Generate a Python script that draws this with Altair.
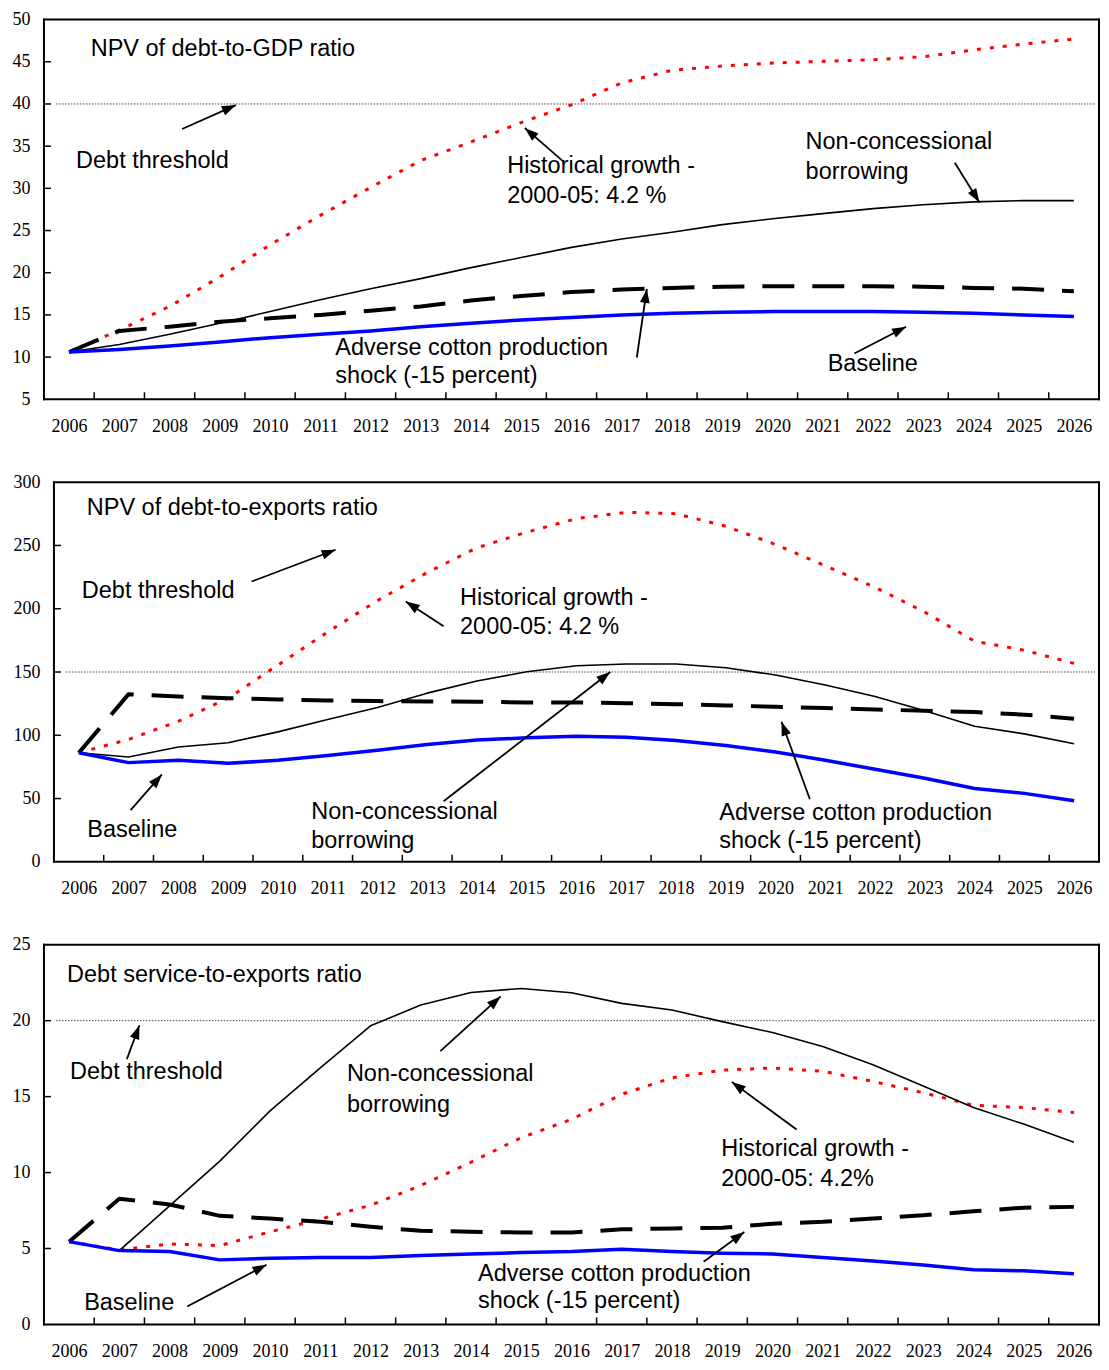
import math
import altair as alt
import pandas as pd

years = list(range(2006, 2027))

# Panel 1: NPV of debt-to-GDP ratio
gdp_baseline = [10.6, 10.9, 11.3, 11.8, 12.3, 12.7, 13.1, 13.6, 14.0, 14.4, 14.7,
                15.0, 15.2, 15.3, 15.4, 15.4, 15.4, 15.3, 15.2, 15.0, 14.8]
gdp_adverse = [10.6, 13.1, 13.6, 14.2, 14.6, 15.0, 15.5, 16.0, 16.7, 17.25, 17.7,
               18.0, 18.2, 18.35, 18.4, 18.4, 18.4, 18.35, 18.2, 18.1, 17.8]
gdp_noncon = [10.6, 11.5, 12.7, 14.0, 15.4, 16.8, 18.1, 19.3, 20.6, 21.8, 23.0,
              24.0, 24.8, 25.7, 26.4, 27.0, 27.6, 28.05, 28.4, 28.55, 28.55]
gdp_hist = [10.6, 13.2, 16.0, 19.5, 23.3, 26.8, 30.1, 33.3, 35.5, 37.8, 39.9,
            42.5, 44.0, 44.5, 44.85, 45.05, 45.25, 45.6, 46.4, 47.1, 47.7]
gdp_threshold = 40

# Panel 2: NPV of debt-to-exports ratio
exp_baseline = [86.2, 78.4, 80.2, 77.9, 80.2, 84.1, 88.1, 92.8, 96.2, 98.0, 99.3,
                98.5, 95.9, 92.0, 86.8, 80.2, 73.2, 66.1, 58.0, 54.1, 48.3]
exp_adverse = [86.2, 132.5, 130.6, 129.3, 128.3, 127.5, 127.0, 126.7, 126.5, 125.9, 125.9,
               125.4, 124.6, 123.6, 122.5, 121.5, 120.4, 119.4, 118.4, 116.3, 113.1]
exp_noncon = [86.2, 82.8, 90.7, 94.1, 102.7, 112.4, 122.0, 133.3, 142.9, 150.2, 155.0,
              156.3, 156.3, 153.4, 147.6, 139.8, 130.6, 119.4, 107.1, 101.1, 93.3]
exp_hist = [86.2, 96.7, 111.1, 129.3, 155.5, 181.6, 206.4, 228.6, 248.2, 260.5, 271.2,
            276.2, 275.1, 265.2, 250.8, 233.9, 216.9, 197.3, 174.3, 167.2, 156.8]
exp_threshold = 150

# Panel 3: Debt service-to-exports ratio
ds_baseline = [5.45, 4.86, 4.8, 4.25, 4.36, 4.4, 4.4, 4.53, 4.64, 4.73, 4.8,
               4.95, 4.8, 4.69, 4.64, 4.4, 4.18, 3.92, 3.6, 3.53, 3.33]
ds_adverse = [5.45, 8.28, 7.9, 7.15, 6.97, 6.76, 6.43, 6.17, 6.1, 6.06, 6.06,
              6.26, 6.32, 6.36, 6.63, 6.76, 6.97, 7.19, 7.45, 7.69, 7.74]
ds_noncon = [5.45, 4.86, 7.8, 10.75, 14.06, 16.9, 19.66, 21.03, 21.86, 22.12, 21.84,
             21.14, 20.7, 19.94, 19.22, 18.3, 17.1, 15.7, 14.28, 13.19, 11.99]
ds_hist = [5.45, 4.9, 5.3, 5.19, 6.1, 6.93, 7.85, 9.15, 10.68, 12.3, 13.5,
           15.15, 16.24, 16.74, 16.89, 16.67, 16.0, 15.26, 14.43, 14.28, 13.95]
ds_threshold = 20

# Annotations (data coordinates): label lines and arrows (tail -> head)
gdp_texts = [("NPV of debt-to-GDP ratio", 2006.43, 46.47),
             ("Debt threshold", 2006.14, 33.27),
             ("Historical growth -", 2014.72, 32.68),
             ("2000-05: 4.2 %", 2014.72, 29.15),
             ("Non-concessional", 2020.66, 35.51),
             ("borrowing", 2020.66, 31.98),
             ("Adverse cotton production", 2011.30, 11.13),
             ("shock (-15 percent)", 2011.30, 7.71),
             ("Baseline", 2021.10, 9.12)]
gdp_arrows = [(2008.25, 37.04, 2009.32, 39.87),
              (2015.84, 33.16, 2015.07, 37.16),
              (2023.63, 33.04, 2024.12, 28.33),
              (2017.30, 9.95, 2017.50, 18.08),
              (2021.63, 10.42, 2022.66, 13.60)]

exp_texts = [("NPV of debt-to-exports ratio", 2006.16, 279.6),
             ("Debt threshold", 2006.06, 214.4),
             ("Historical growth -", 2013.66, 208.1),
             ("2000-05: 4.2 %", 2013.66, 185.3),
             ("Baseline", 2006.17, 25.1),
             ("Non-concessional", 2010.67, 39.3),
             ("borrowing", 2010.67, 16.5),
             ("Adverse cotton production", 2018.87, 38.5),
             ("shock (-15 percent)", 2018.87, 16.5)]
exp_arrows = [(2009.47, 221.5, 2011.16, 246.6),
              (2013.33, 186.1, 2012.57, 205.8),
              (2007.04, 40.8, 2007.67, 69.1),
              (2013.33, 47.9, 2016.68, 150.0),
              (2020.69, 49.5, 2020.12, 110.7)]

ds_texts = [("Debt service-to-exports ratio", 2005.96, 23.04),
            ("Debt threshold", 2006.02, 16.62),
            ("Non-concessional", 2011.53, 16.49),
            ("borrowing", 2011.53, 14.46),
            ("Historical growth -", 2018.98, 11.52),
            ("2000-05: 4.2%", 2018.98, 9.55),
            ("Adverse cotton production", 2014.14, 3.34),
            ("shock (-15 percent)", 2014.14, 1.51),
            ("Baseline", 2006.30, 1.44)]
ds_arrows = [(2007.15, 17.47, 2007.40, 19.70),
             (2013.39, 18.0, 2014.59, 21.6),
             (2020.48, 12.83, 2019.19, 15.97),
             (2018.63, 4.12, 2019.44, 6.09),
             (2008.35, 1.18, 2009.93, 3.93)]

SERIF = "Liberation Serif"
SANS = "Liberation Sans"
HEAD = "M0,0L0.7,2L-0.7,2Z"
W = 1056
H = 380


def panel(series, ymin, ymax, ystep, threshold, texts, arrows, inset):
    xdom = [2005.5, 2026.5]
    yvals = list(range(ymin, ymax + 1, ystep))

    def xe(field):
        return alt.X(f"{field}:Q",
                     scale=alt.Scale(domain=xdom, nice=False, zero=False, range=[inset, W]),
                     axis=alt.Axis(values=years, format="d", labelFont=SERIF, labelFontSize=18,
                                   labelColor="black", ticks=False, domain=False, grid=False,
                                   title=None, labelPadding=18, labelOverlap=False,
                                   labelFlush=False))

    def ye(field):
        yax = dict(values=yvals, labelFont=SERIF, labelFontSize=18,
                   labelColor="black", ticks=False, domain=False, grid=False,
                   title=None, labelPadding=14, minExtent=33)
        if inset:
            yax["offset"] = -inset
        return alt.Y(f"{field}:Q", scale=alt.Scale(domain=[ymin, ymax], nice=False, zero=False),
                     axis=alt.Axis(**yax))

    layers = []
    thr = alt.Chart(pd.DataFrame({"t": [threshold]})).mark_rule(
        color="#444", strokeWidth=1, strokeDash=[1.5, 1.5]).encode(
        y=ye("t"), x=alt.value(inset + 12), x2=alt.value(W - 4))
    layers.append(thr)

    styles = {
        "hist": dict(color="#FF0000", strokeWidth=3, strokeDash=[4, 9]),
        "noncon": dict(color="black", strokeWidth=1.6),
        "adverse": dict(color="black", strokeWidth=4, strokeDash=[32, 18]),
        "baseline": dict(color="#0000FF", strokeWidth=3.5),
    }
    for key in ["hist", "noncon", "adverse", "baseline"]:
        df = pd.DataFrame({"year": years, "value": series[key]})
        layers.append(alt.Chart(df).mark_line(strokeCap="butt", strokeJoin="round",
                                              **styles[key]).encode(x=xe("year"), y=ye("value")))

    ytk = pd.DataFrame({"v": yvals[1:-1]})
    layers.append(alt.Chart(ytk).mark_rule(color="black", strokeWidth=1.5).encode(
        y=ye("v"), x=alt.value(inset), x2=alt.value(inset + 7)))
    xtk = pd.DataFrame({"b": [y + 0.5 for y in years[:-1]]})
    layers.append(alt.Chart(xtk).mark_rule(color="black", strokeWidth=1.5).encode(
        x=xe("b"), y=alt.value(H), y2=alt.value(H - 7)))

    tdf = pd.DataFrame(texts, columns=["text", "tx", "ty"])
    layers.append(alt.Chart(tdf).mark_text(align="left", baseline="middle", font=SANS,
                                           fontSize=23.5, color="black").encode(
        x=xe("tx"), y=ye("ty"), text="text:N"))

    pxx = (W - inset) / (xdom[1] - xdom[0])
    pxy = H / (ymax - ymin)
    rows = []
    for (x1, y1, x2, y2) in arrows:
        dx = (x2 - x1) * pxx
        dy = -(y2 - y1) * pxy
        ang = math.degrees(math.atan2(dx, -dy)) % 360
        rows.append({"ax": x1, "ay": y1, "ax2": x2, "ay2": y2, "ang": ang})
    adf = pd.DataFrame(rows)
    layers.append(alt.Chart(adf).mark_rule(color="black", strokeWidth=1.8).encode(
        x=xe("ax"), y=ye("ay"), x2="ax2:Q", y2="ay2:Q"))
    layers.append(alt.Chart(adf).mark_point(shape=HEAD, filled=True, size=196, color="black",
                                            opacity=1, strokeWidth=0).encode(
        x=xe("ax2"), y=ye("ay2"), angle=alt.Angle("ang:Q", scale=None)))

    # plot frame
    frame_src = pd.DataFrame({"k": [0]})
    fr = dict(color="black", strokeWidth=2, strokeCap="square")
    layers.append(alt.Chart(frame_src).mark_rule(**fr).encode(
        x=alt.value(inset), x2=alt.value(W), y=alt.value(0)))
    layers.append(alt.Chart(frame_src).mark_rule(**fr).encode(
        x=alt.value(inset), x2=alt.value(W), y=alt.value(H)))
    layers.append(alt.Chart(frame_src).mark_rule(**fr).encode(
        x=alt.value(inset), y=alt.value(0), y2=alt.value(H)))
    layers.append(alt.Chart(frame_src).mark_rule(**fr).encode(
        x=alt.value(W), y=alt.value(0), y2=alt.value(H)))

    return alt.layer(*layers).properties(width=W, height=H)


p1 = panel({"baseline": gdp_baseline, "adverse": gdp_adverse, "noncon": gdp_noncon,
            "hist": gdp_hist}, 5, 50, 5, gdp_threshold, gdp_texts, gdp_arrows, 0)
p2 = panel({"baseline": exp_baseline, "adverse": exp_adverse, "noncon": exp_noncon,
            "hist": exp_hist}, 0, 300, 50, exp_threshold, exp_texts, exp_arrows, 10)
p3 = panel({"baseline": ds_baseline, "adverse": ds_adverse, "noncon": ds_noncon,
            "hist": ds_hist}, 0, 25, 5, ds_threshold, ds_texts, ds_arrows, 0)

chart = alt.vconcat(p1, p2, p3, spacing=38).properties(
    background="white",
    padding={"left": 3, "top": 2, "right": 0, "bottom": 1},
).configure_view(stroke=None)

chart.save("out.html", embed_options={"renderer": "svg", "actions": False})
